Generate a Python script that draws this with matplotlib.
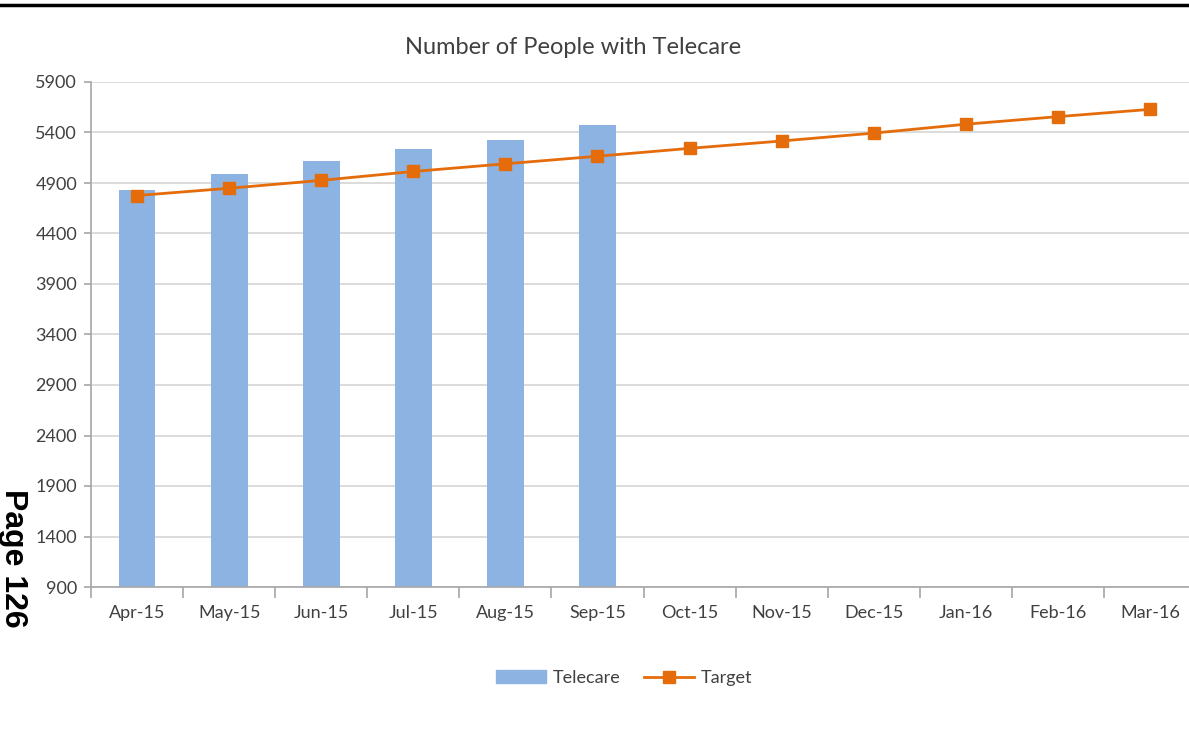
import numpy as np
import matplotlib.pyplot as plt
from matplotlib.lines import Line2D
from matplotlib.patches import Patch

months = ['Apr-15', 'May-15', 'Jun-15', 'Jul-15', 'Aug-15', 'Sep-15',
          'Oct-15', 'Nov-15', 'Dec-15', 'Jan-16', 'Feb-16', 'Mar-16']
telecare = [4835, 4988, 5113, 5237, 5325, 5478]
target = [4776, 4848, 4926, 5014, 5090, 5165, 5243, 5316, 5394, 5482, 5557, 5629]
yticks = [900, 1400, 1900, 2400, 2900, 3400, 3900, 4400, 4900, 5400, 5900]

BAR_COLOR = '#8DB3E2'
LINE_COLOR = '#E46C0A'
FONT = 'Lato'

W, H = 1189, 749
fig = plt.figure(figsize=(W / 100, H / 100), dpi=100)
ax = fig.add_axes([91 / W, 1 - 587 / H, 1105 / W, 505 / H])

x = np.arange(len(months))
ax.bar(x[:len(telecare)], telecare, width=0.40, color=BAR_COLOR, zorder=2)
ax.plot(x, target, color=LINE_COLOR, lw=2, marker='s', ms=8, zorder=3)

ax.set_xlim(-0.5, len(months) - 0.5)
ax.set_ylim(900, 5900)
ax.set_yticks(yticks)
ax.set_yticklabels([str(v) for v in yticks], fontsize=13, family=FONT, color='#404040')
ax.set_xticks(x)
ax.set_xticklabels(months, fontsize=13, family=FONT, color='#404040')
ax.set_xticks(np.arange(-0.5, len(months)), minor=True)
ax.tick_params(axis='x', which='major', length=0, pad=13)
ax.tick_params(axis='x', which='minor', length=8, color='#A6A6A6', width=1.2)
ax.tick_params(axis='y', length=5, color='#A6A6A6', width=1.2, pad=5)

ax.grid(axis='y', color='#D9D9D9', lw=1.3, zorder=0)
ax.set_axisbelow(True)
for s in ['top', 'right']:
    ax.spines[s].set_visible(False)
for s in ['left', 'bottom']:
    ax.spines[s].set_color('#A6A6A6')
    ax.spines[s].set_linewidth(1.2)

fig.text(573 / W, 1 - 47 / H, 'Number of People with Telecare', ha='center', va='center',
         fontsize=17, family=FONT, color='#404040')

handles = [Patch(color=BAR_COLOR, label='Telecare'),
           Line2D([0], [0], color=LINE_COLOR, lw=2, marker='s', ms=8, label='Target')]
fig.legend(handles=handles, loc='center', bbox_to_anchor=(624 / W, 1 - 678 / H), ncol=2,
           frameon=False, prop={'family': FONT, 'size': 13}, handlelength=2.8,
           handletextpad=0.35, columnspacing=1.3, labelcolor='#404040')

# page header rule and page number
fig.add_artist(Line2D([0, 1], [1 - 5 / H, 1 - 5 / H], color='black', lw=2.5))
fig.text(13 / W, 1 - 558 / H, 'Page 126', rotation=-90, ha='center', va='center',
         fontsize=23, family='Liberation Sans', weight='bold', color='black')

fig.savefig('out.png', dpi=100)
